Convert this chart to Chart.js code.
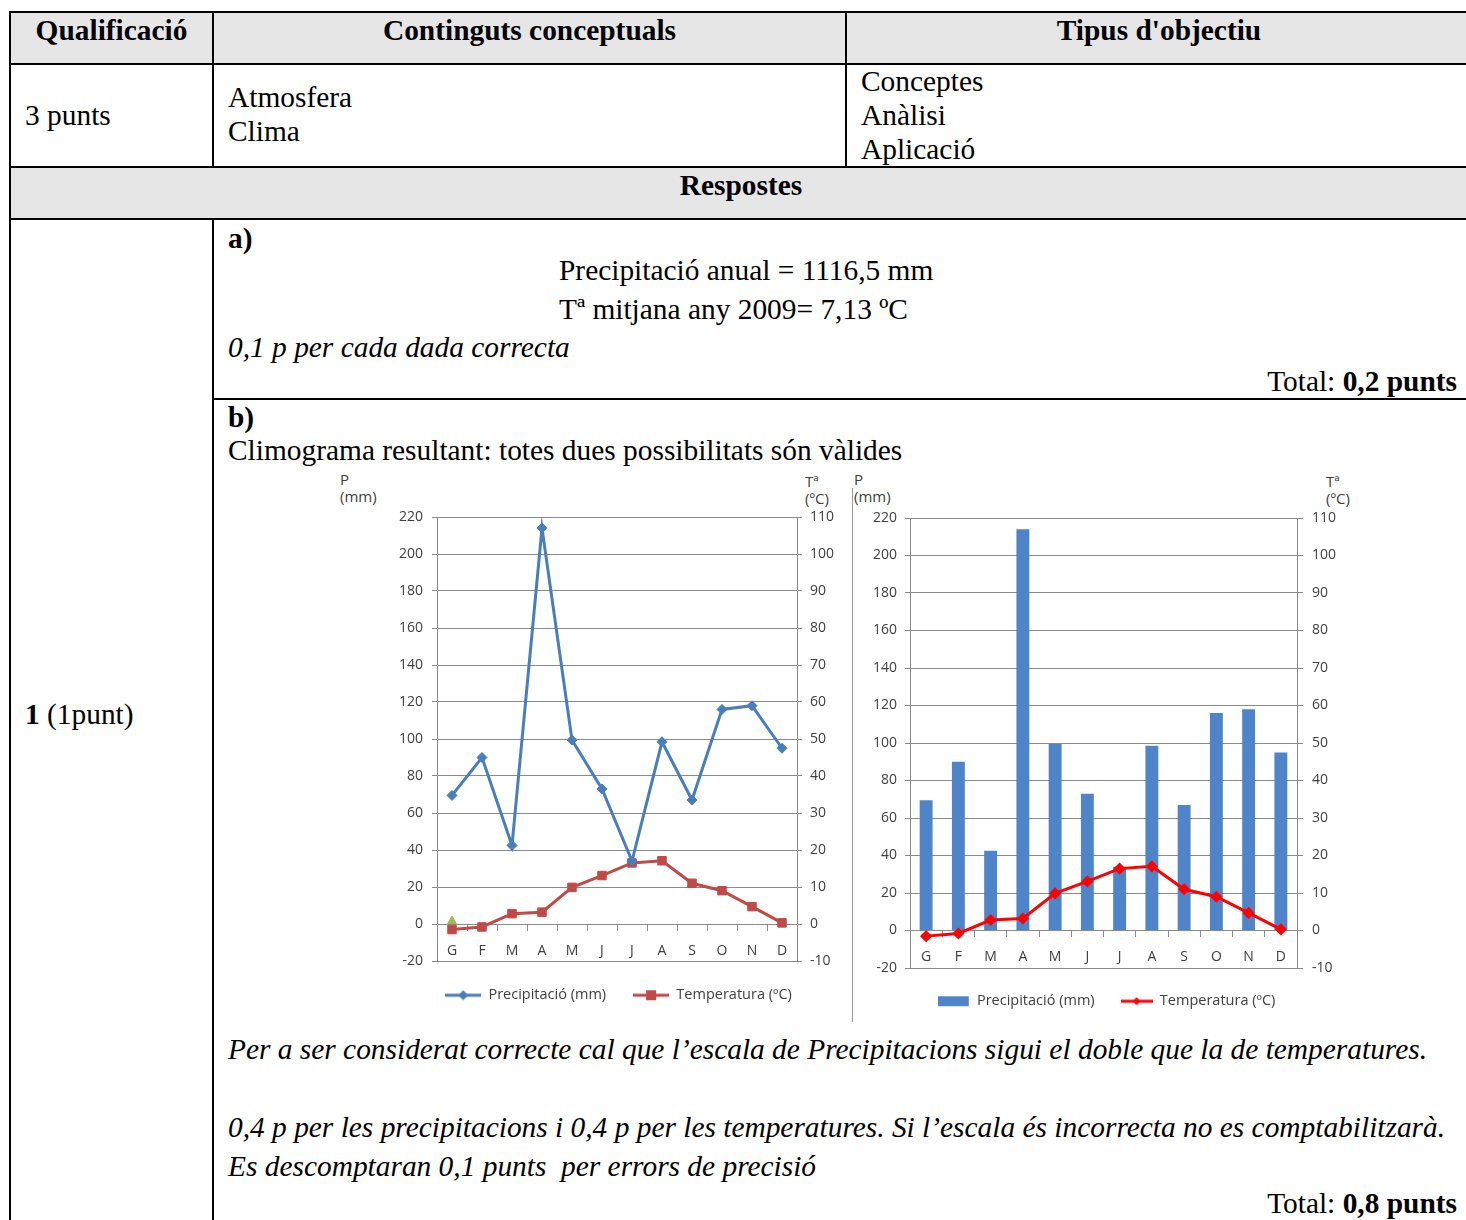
<!DOCTYPE html>
<html>
<head>
<meta charset="utf-8">
<script src="https://cdn.jsdelivr.net/npm/chart.js@4.4.1/dist/chart.umd.min.js"></script>
<style>
  html, body { margin: 0; padding: 0; background: #fff; overflow: hidden; }
  body { width: 1466px; height: 1220px; position: relative; font-family: 'Liberation Serif', 'Times New Roman', serif; color: #000; }
  .t { position: absolute; font-size: 29.4px; line-height: 34px; white-space: nowrap; }
  .b { font-weight: bold; }
  .i { font-style: italic; }
  .ln { position: absolute; background: #000; }
  .fill { position: absolute; background: #e6e6e6; }
  .ax { position: absolute; font-family: 'Open Sans', Lato, sans-serif; font-size: 15px; line-height: 17px; color: #404040; white-space: nowrap; }
  canvas { position: absolute; }
</style>
</head>
<body>
<!-- table backgrounds -->
<div class="fill" style="left:10px;top:12px;width:1456px;height:52px"></div>
<div class="fill" style="left:10px;top:167px;width:1456px;height:52px"></div>
<!-- table lines -->
<div class="ln" style="left:9px;top:11px;width:1457px;height:2px"></div>
<div class="ln" style="left:9px;top:63px;width:1457px;height:2px"></div>
<div class="ln" style="left:9px;top:166px;width:1457px;height:2px"></div>
<div class="ln" style="left:9px;top:218px;width:1457px;height:2px"></div>
<div class="ln" style="left:212px;top:398px;width:1254px;height:2px"></div>
<div class="ln" style="left:9px;top:11px;width:2px;height:1209px"></div>
<div class="ln" style="left:212px;top:11px;width:2px;height:156px"></div>
<div class="ln" style="left:212px;top:218px;width:2px;height:1002px"></div>
<div class="ln" style="left:845px;top:11px;width:2px;height:156px"></div>

<!-- texts -->
<div class="t b" style="left:10px;width:203px;text-align:center;top:13px">Qualificació</div>
<div class="t b" style="left:213px;width:633px;text-align:center;top:13px">Continguts conceptuals</div>
<div class="t b" style="left:846px;width:626px;text-align:center;top:13px">Tipus d'objectiu</div>
<div class="t" style="left:25px;top:98px">3 punts</div>
<div class="t" style="left:228px;top:80px">Atmosfera</div>
<div class="t" style="left:228px;top:114px">Clima</div>
<div class="t" style="left:861px;top:64px">Conceptes</div>
<div class="t" style="left:861px;top:98px">Anàlisi</div>
<div class="t" style="left:861px;top:132px">Aplicació</div>
<div class="t b" style="left:10px;width:1462px;text-align:center;top:168px">Respostes</div>
<div class="t" style="left:25px;top:697px"><b>1</b> (1punt)</div>
<div class="t b" style="left:228px;top:221px">a)</div>
<div class="t" style="left:559px;top:253px">Precipitació anual = 1116,5 mm</div>
<div class="t" style="left:559px;top:292px">Tª mitjana any 2009= 7,13 ºC</div>
<div class="t i" style="left:228px;top:330px">0,1 p per cada dada correcta</div>
<div class="t" style="right:9px;top:364px">Total: <b>0,2 punts</b></div>
<div class="t b" style="left:228px;top:400px">b)</div>
<div class="t" style="left:228px;top:433px">Climograma resultant: totes dues possibilitats són vàlides</div>
<div class="t i" style="left:228px;top:1032px">Per a ser considerat correcte cal que l’escala de Precipitacions sigui el doble que la de temperatures.</div>
<div class="t i" style="left:228px;top:1110px">0,4 p per les precipitacions i 0,4 p per les temperatures. Si l’escala és incorrecta no es comptabilitzarà.</div>
<div class="t i" style="left:228px;top:1149px">Es descomptaran 0,1 punts&nbsp; per errors de precisió</div>
<div class="t" style="right:9px;top:1186px">Total: <b>0,8 punts</b></div>

<!-- chart axis titles -->
<div class="ax" style="left:340px;top:471px">P<br>(mm)</div>
<div class="ax" style="left:805px;top:473px">Tª<br>(ºC)</div>
<div class="ax" style="left:854px;top:471px">P<br>(mm)</div>
<div class="ax" style="left:1326px;top:473px">Tª<br>(ºC)</div>
<div style="position:absolute;left:852px;top:488px;width:1px;height:534px;background:#9a9a9a"></div>

<canvas id="c1" width="515" height="555" style="left:335px;top:470px"></canvas>
<canvas id="c2" width="512" height="555" style="left:853px;top:470px"></canvas>

<script>
// ---- data ----
const mesos = ['G','F','M','A','M','J','J','A','S','O','N','D'];
const precipitacio = [69.5, 90, 42.5, 214, 99.5, 73, 34, 98.5, 67, 116, 118, 95];
const temperatura = [-1.5, -0.8, 2.8, 3.2, 9.9, 13.1, 16.5, 17.1, 11, 9, 4.7, 0.3];
const marcaVerda = [1.6, null, null, null, null, null, null, null, null, null, null, null];
const escalaP = { min: -20, max: 220, step: 20 };
const escalaT = { min: -10, max: 110, step: 10 };
const etiquetaP = 'Precipitació (mm)';
const etiquetaT = 'Temperatura (ºC)';

Chart.defaults.font.family = '"Open Sans", Lato, sans-serif';
Chart.defaults.color = '#404040';

const gridCol = '#8a8a8a';
const tickFont = { size: 14 };
const legendFont = { size: 14.5 };

function icon(w, h, color, kind) {
  const c = document.createElement('canvas');
  c.width = w; c.height = h;
  const g = c.getContext('2d');
  g.fillStyle = color; g.strokeStyle = color;
  if (kind === 'box') { g.fillRect(0, Math.round(h/2 - 5), w - 1, 10); return c; }
  g.lineWidth = 3; g.beginPath(); g.moveTo(0, h/2); g.lineTo(w, h/2); g.stroke();
  const cx = w/2, cy = h/2;
  if (kind === 'diamond') {
    g.beginPath(); g.moveTo(cx, cy-5); g.lineTo(cx+5, cy); g.lineTo(cx, cy+5); g.lineTo(cx-5, cy); g.closePath(); g.fill();
  } else if (kind === 'square') {
    g.fillRect(cx-5, cy-5, 10, 10);
  } else if (kind === 'sdiamond') {
    g.beginPath(); g.moveTo(cx, cy-4); g.lineTo(cx+4, cy); g.lineTo(cx, cy+4); g.lineTo(cx-4, cy); g.closePath(); g.fill();
  }
  return c;
}

function fixedWidth(w) { return function(scale) { scale.width = w; }; }

function yAxes(lw, rw, lpad, rpad, rtick) {
  return {
    y: {
      position: 'left', min: escalaP.min, max: escalaP.max,
      afterFit: fixedWidth(lw),
      ticks: { stepSize: escalaP.step, padding: lpad, font: tickFont, color: '#404040' },
      grid: { color: gridCol, lineWidth: 1, drawTicks: true, tickLength: 5 },
      border: { display: true, color: gridCol, width: 1 }
    },
    y1: {
      position: 'right', min: escalaT.min, max: escalaT.max,
      afterFit: fixedWidth(rw),
      ticks: { stepSize: escalaT.step, padding: rpad, font: tickFont, color: '#404040' },
      grid: { drawOnChartArea: false, color: gridCol, drawTicks: true, tickLength: rtick },
      border: { display: true, color: gridCol, width: 1 }
    }
  };
}

// ---- chart 1: two lines ----
const icons1 = [icon(36, 14, '#4a7ebb', 'diamond'), icon(36, 14, '#be4b48', 'square')];
new Chart(document.getElementById('c1'), {
  type: 'line',
  data: {
    labels: mesos,
    datasets: [
      { label: etiquetaP, data: precipitacio, yAxisID: 'y', borderColor: '#4a7ebb', backgroundColor: '#4a7ebb',
        borderWidth: 3, pointStyle: 'rectRot', pointRadius: 5, pointBorderWidth: 1, tension: 0, order: 0 },
      { label: etiquetaT, data: temperatura, yAxisID: 'y1', borderColor: '#be4b48', backgroundColor: '#be4b48',
        borderWidth: 3, pointStyle: 'rect', pointRadius: 6, pointBorderWidth: 1, tension: 0, order: 1 },
      { label: 'marca', data: marcaVerda, yAxisID: 'y', showLine: false, borderColor: '#9bbb59', backgroundColor: '#9bbb59',
        pointStyle: 'triangle', pointRadius: 5, order: 2 }
    ]
  },
  options: {
    responsive: false, animation: false, events: [],
    layout: { padding: { top: 47, bottom: 12.5, left: 52, right: 0 } },
    scales: Object.assign({
      x: {
        position: { y: 0 }, offset: true,
        ticks: { padding: 13, font: tickFont, color: '#404040' },
        grid: { offset: true, drawOnChartArea: false, drawTicks: true, tickLength: 6, color: gridCol },
        border: { display: true, color: gridCol, width: 1 }
      }
    }, yAxes(50, 53, 9, 8, 5)),
    plugins: {
      tooltip: { enabled: false },
      legend: {
        position: 'bottom', fullSize: true,
        labels: {
          usePointStyle: true, pointStyleWidth: 36, padding: 27, font: legendFont, color: '#404040',
          filter: (item) => item.datasetIndex < 2,
          generateLabels: (chart) => {
            const items = Chart.defaults.plugins.legend.labels.generateLabels(chart);
            items.forEach(it => { if (it.datasetIndex < 2) it.pointStyle = icons1[it.datasetIndex]; });
            return items;
          }
        }
      }
    }
  }
});

// ---- chart 2: bars + line ----
const icons2 = [icon(32, 14, '#4f84c8', 'box'), icon(32, 14, '#ff0000', 'sdiamond')];
new Chart(document.getElementById('c2'), {
  type: 'bar',
  data: {
    labels: mesos,
    datasets: [
      { type: 'line', label: etiquetaT, data: temperatura, yAxisID: 'y1', borderColor: '#ff0000', backgroundColor: '#ff0000',
        borderWidth: 3, pointStyle: 'rectRot', pointRadius: 4, tension: 0, order: 0 },
      { type: 'bar', label: etiquetaP, data: precipitacio, yAxisID: 'y', backgroundColor: '#4f84c8',
        barPercentage: 0.4, categoryPercentage: 1.0, order: 1 }
    ]
  },
  options: {
    responsive: false, animation: false, events: [],
    layout: { padding: { top: 48, bottom: 6.5, left: 0, right: 5 } },
    scales: Object.assign({
      x: {
        position: { y: 0 }, offset: true,
        ticks: { padding: 12, font: tickFont, color: '#404040' },
        grid: { offset: true, drawOnChartArea: false, drawTicks: true, tickLength: 6, color: gridCol },
        border: { display: true, color: gridCol, width: 1 }
      }
    }, yAxes(57, 63, 8, 9, 6)),
    plugins: {
      tooltip: { enabled: false },
      legend: {
        position: 'bottom', fullSize: true, reverse: true,
        labels: {
          usePointStyle: true, pointStyleWidth: 32, padding: 26, font: legendFont, color: '#404040',
          generateLabels: (chart) => {
            const items = Chart.defaults.plugins.legend.labels.generateLabels(chart);
            items.forEach(it => { it.pointStyle = it.datasetIndex === 1 ? icons2[0] : icons2[1]; });
            return items;
          }
        }
      }
    }
  }
});
</script>
</body>
</html>
